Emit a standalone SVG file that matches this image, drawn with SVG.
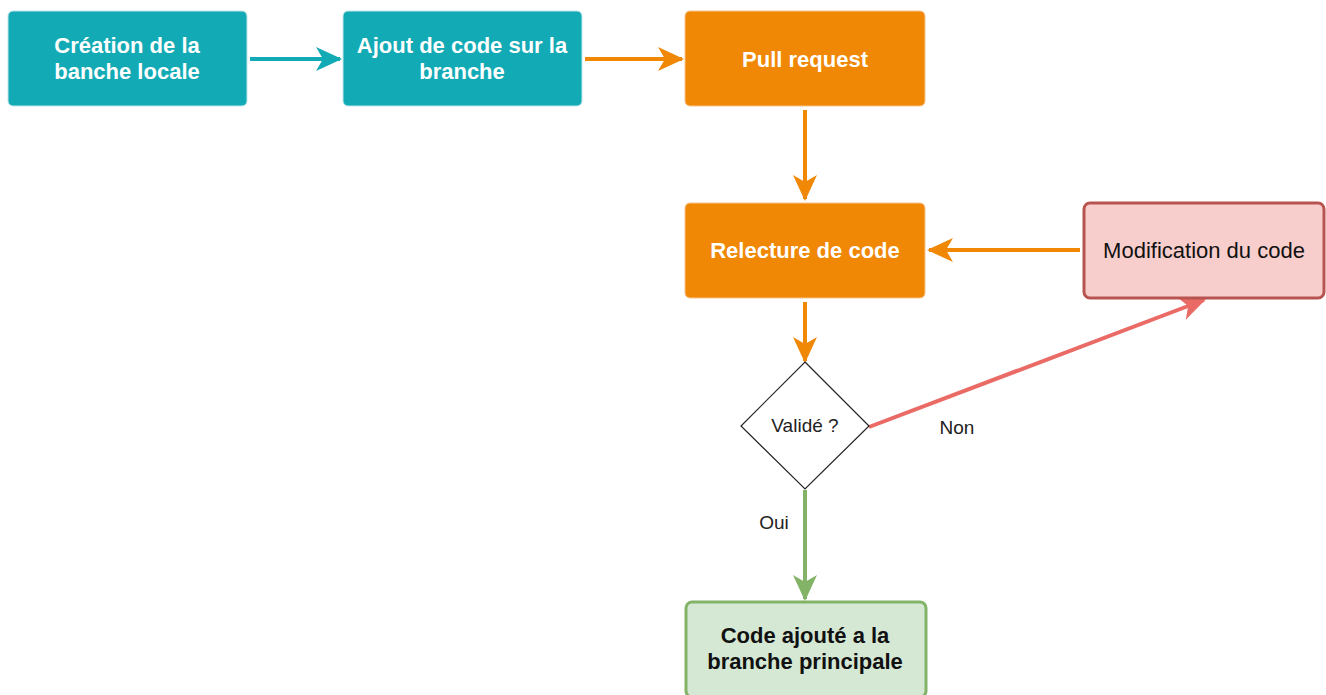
<svg xmlns="http://www.w3.org/2000/svg" width="1326" height="695" viewBox="0 0 1326 695">
<style>
text{font-family:"Liberation Sans",Arial,sans-serif;text-anchor:middle}
.w{fill:#ffffff;font-weight:bold;font-size:22px}
.k{fill:#111111;font-size:22px}
.kb{fill:#111111;font-weight:bold;font-size:22px}
.s{fill:#222222;font-size:19px}
.teal{fill:#12AAB5;stroke:#bfe6ea;stroke-width:1}
.orange{fill:#F08705;stroke:#f7c58c;stroke-width:1}
.c{fill:none;stroke-width:4}
</style>
<defs>
<marker id="aT" viewBox="0 0 26 26" markerWidth="26" markerHeight="26" refX="24" refY="13" orient="auto" markerUnits="userSpaceOnUse"><path d="M0,1 L26,13 L0,25 L7,13 z" fill="#12AAB5"/></marker>
<marker id="aO" viewBox="0 0 26 26" markerWidth="26" markerHeight="26" refX="24" refY="13" orient="auto" markerUnits="userSpaceOnUse"><path d="M0,1 L26,13 L0,25 L7,13 z" fill="#F08705"/></marker>
<marker id="aR" viewBox="0 0 26 26" markerWidth="26" markerHeight="26" refX="24" refY="13" orient="auto" markerUnits="userSpaceOnUse"><path d="M0,1 L26,13 L0,25 L7,13 z" fill="#EA6B66"/></marker>
<marker id="aG" viewBox="0 0 26 26" markerWidth="26" markerHeight="26" refX="24" refY="13" orient="auto" markerUnits="userSpaceOnUse"><path d="M0,1 L26,13 L0,25 L7,13 z" fill="#82B366"/></marker>
</defs>
<rect width="1326" height="695" fill="#ffffff"/>
<g id="connectors">
<line class="c" x1="250" y1="59" x2="340" y2="59" stroke="#12AAB5" marker-end="url(#aT)"/>
<line class="c" x1="585" y1="59" x2="682" y2="59" stroke="#F08705" marker-end="url(#aO)"/>
<line class="c" x1="805" y1="110" x2="805" y2="199" stroke="#F08705" marker-end="url(#aO)"/>
<line class="c" x1="1080" y1="250" x2="929" y2="250" stroke="#F08705" marker-end="url(#aO)"/>
<line class="c" x1="805" y1="302" x2="805" y2="361" stroke="#F08705" marker-end="url(#aO)"/>
<line class="c" x1="869" y1="427" x2="1204" y2="300" stroke="#EA6B66" marker-end="url(#aR)"/>
<line class="c" x1="805" y1="490" x2="805" y2="599" stroke="#82B366" marker-end="url(#aG)"/>
<text class="s" x="957" y="434">Non</text>
<text class="s" x="774" y="529">Oui</text>
</g>
<g id="n1"><rect class="teal" x="8" y="11" width="239" height="95" rx="5"/>
<text class="w" x="127" y="53">Création de la</text><text class="w" x="127" y="79">banche locale</text></g>
<g id="n2"><rect class="teal" x="343" y="11" width="239" height="95" rx="5"/>
<text class="w" x="462" y="53">Ajout de code sur la</text><text class="w" x="462" y="79">branche</text></g>
<g id="n3"><rect class="orange" x="685" y="11" width="240" height="95" rx="5"/>
<text class="w" x="805" y="67">Pull request</text></g>
<g id="n4"><rect class="orange" x="685" y="203" width="240" height="95" rx="5"/>
<text class="w" x="805" y="258">Relecture de code</text></g>
<g id="n5"><rect x="1084" y="203" width="240" height="95" rx="6" fill="#F8CECC" stroke="#B85450" stroke-width="3"/>
<text class="k" x="1204" y="258">Modification du code</text></g>
<g id="n6"><polygon points="805,362 869,426 805,489 741,426" fill="#ffffff" stroke="#222222" stroke-width="1.2"/>
<text class="s" x="805" y="432">Validé ?</text></g>
<g id="n7"><rect x="686" y="602" width="240" height="95" rx="6" fill="#D5E8D4" stroke="#82B366" stroke-width="3"/>
<text class="kb" x="805" y="643">Code ajouté a la</text><text class="kb" x="805" y="669">branche principale</text></g>
</svg>
